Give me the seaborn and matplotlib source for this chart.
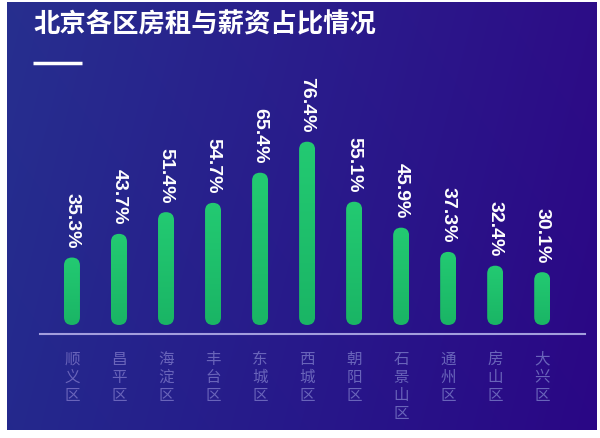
import numpy as np
import pandas as pd
import matplotlib
matplotlib.use('Agg')
import matplotlib.pyplot as plt
import seaborn as sns
from matplotlib.patches import FancyBboxPatch
from matplotlib.lines import Line2D
from matplotlib.colors import LinearSegmentedColormap, to_rgb

# ---------------- data ----------------
districts = ['顺义区', '昌平区', '海淀区', '丰台区', '东城区', '西城区',
             '朝阳区', '石景山区', '通州区', '房山区', '大兴区']
ratios = [35.3, 43.7, 51.4, 54.7, 65.4, 76.4, 55.1, 45.9, 37.3, 32.4, 30.1]
value_labels = [f'{v:.1f}%' for v in ratios]
title = '北京各区房租与薪资占比情况'

# ---------------- style ----------------
sns.set_theme(style='white')
plt.rcParams['font.family'] = ['Noto Sans CJK SC', 'DejaVu Sans']

W, H = 600, 438
fig = plt.figure(figsize=(6, 4.38), dpi=100, facecolor='white')


def fx(px):
    return px / W


def fy(py):
    return 1 - py / H


# background panel with gradient
bg = fig.add_axes([fx(7), fy(430), (597 - 7) / W, (430 - 2) / H])
nx, ny = 300, 100
t = np.linspace(0, 1, nx)
c_left = np.array(to_rgb('#272f8f'))
c_mid = np.array(to_rgb('#2a1e8c'))
c_right = np.array(to_rgb('#2d0d87'))
row = np.where(t[:, None] < 0.5,
               c_left + (c_mid - c_left) * (t[:, None] / 0.5),
               c_mid + (c_right - c_mid) * ((t[:, None] - 0.5) / 0.5))
arr = np.repeat(row[None, :, :], ny, axis=0)
vert = np.linspace(0.0, 0.04, ny)[:, None, None]
arr = np.clip(arr - vert * np.array([0.3, 0.6, 0.2]), 0, 1)
bg.imshow(arr, aspect='auto', extent=[0, 1, 0, 1], interpolation='bicubic')
bg.set_xlim(0, 1)
bg.set_ylim(0, 1)
bg.axis('off')

# main axes
ax = fig.add_axes([fx(40), fy(334), (585 - 40) / W, (334 - 60) / H])
ax.patch.set_alpha(0)

df = pd.DataFrame({'district': districts, 'ratio': ratios})
sns.barplot(data=df, x='district', y='ratio', ax=ax, width=0.34,
            color='#1fc36c', errorbar=None)

XLIM = (-0.68, 10.91)
YLIM = (8.16, 105.4)
BAR_BASE = 11.36
ax.set_xlim(*XLIM)
ax.set_ylim(*YLIM)

p0 = ax.transData.transform((0, 0))
p1 = ax.transData.transform((1, 1))
px_per_x = p1[0] - p0[0]
px_per_y = p1[1] - p0[1]

cmap = LinearSegmentedColormap.from_list('g', ['#1ab565', '#23ca72'])
grad = np.linspace(0, 1, 100)[:, None]

for p, lab in zip(list(ax.patches), value_labels):
    x0 = p.get_x()
    w = p.get_width()
    h = p.get_height()
    p.set_visible(False)
    r = w / 2
    box = FancyBboxPatch((x0, BAR_BASE), w, h - BAR_BASE,
                         boxstyle=f'round,pad=0,rounding_size={r}',
                         mutation_aspect=px_per_x / px_per_y,
                         facecolor='none', edgecolor='none', zorder=2)
    ax.add_patch(box)
    im = ax.imshow(grad, extent=[x0, x0 + w, BAR_BASE, h], origin='lower',
                   aspect='auto', cmap=cmap, zorder=2, interpolation='bilinear')
    im.set_clip_path(box)
    ax.annotate(lab, xy=(x0 + w / 2, h), xytext=(0, 6.5),
                textcoords='offset points', rotation=270,
                ha='center', va='bottom', color='white', fontsize=14,
                fontweight='bold', family=['Liberation Sans', 'DejaVu Sans'])

ax.set_xlim(*XLIM)
ax.set_ylim(*YLIM)
ax.set_aspect('auto')

ax.set_xticks(range(len(districts)))
ax.set_xticklabels(['\n'.join(d) for d in districts], color='#6964ba',
                   fontsize=11.2, linespacing=1.08, va='top')
ax.tick_params(axis='x', length=0, pad=12)
ax.set_yticks([])
ax.set_xlabel('')
ax.set_ylabel('')
for s in ['top', 'left', 'right']:
    ax.spines[s].set_visible(False)
ax.spines['bottom'].set_color('#a39edd')
ax.spines['bottom'].set_linewidth(1.5)

# title and decorative line
fig.text(fx(33), fy(25), title, fontsize=19, color='white',
         ha='left', va='center', fontweight='bold')
fig.add_artist(Line2D([fx(33), fx(82)], [fy(63), fy(63)], color='white',
                      lw=2.5, solid_capstyle='butt'))

fig.savefig('out.png', dpi=100, facecolor='white')
